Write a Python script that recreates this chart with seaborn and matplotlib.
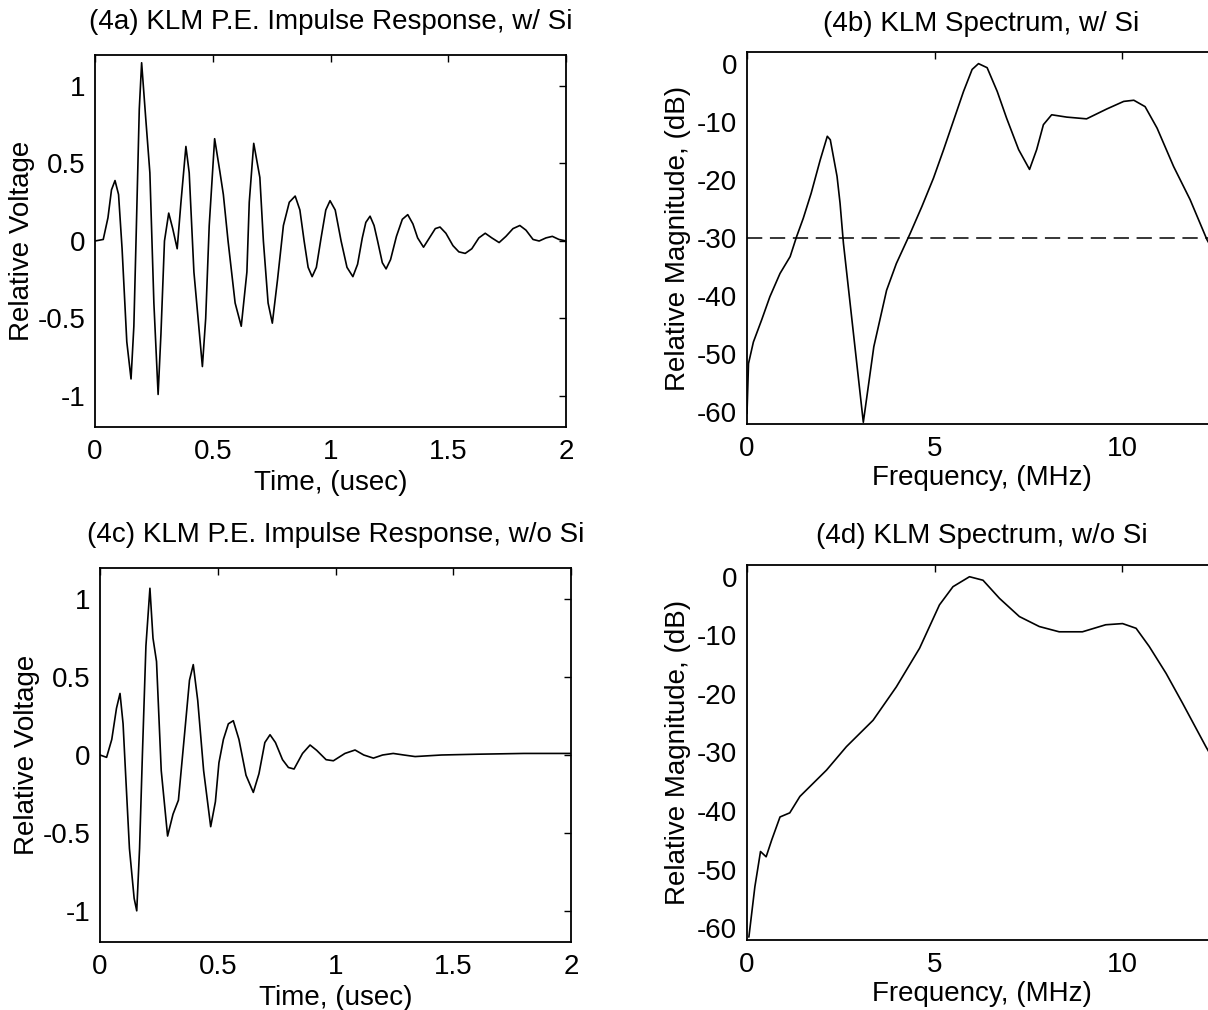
import matplotlib
matplotlib.use("Agg")
import matplotlib.pyplot as plt
import seaborn as sns

# ---------------- data ----------------
# (4a) impulse response with Si
t_a = [0.0, 0.035, 0.055, 0.07, 0.085, 0.10, 0.115, 0.135, 0.153, 0.165,
       0.175, 0.188, 0.198, 0.215, 0.233, 0.25, 0.268, 0.28, 0.295, 0.313,
       0.33, 0.349, 0.365, 0.386, 0.40, 0.42, 0.456, 0.47, 0.485, 0.508,
       0.53, 0.545, 0.565, 0.595, 0.621, 0.645, 0.655, 0.674, 0.70, 0.715,
       0.735, 0.753, 0.775, 0.80, 0.825, 0.85, 0.87, 0.888, 0.905, 0.922,
       0.94, 0.96, 0.98, 0.998, 1.02, 1.045, 1.07, 1.095, 1.115, 1.135,
       1.15, 1.168, 1.185, 1.20, 1.22, 1.236, 1.255, 1.28, 1.305, 1.328,
       1.35, 1.37, 1.395, 1.42, 1.445, 1.465, 1.49, 1.52, 1.545, 1.572,
       1.60, 1.63, 1.657, 1.685, 1.716, 1.745, 1.775, 1.804, 1.83, 1.86,
       1.886, 1.915, 1.942, 1.97, 2.0]
v_a = [0.0, 0.01, 0.15, 0.33, 0.39, 0.30, -0.05, -0.65, -0.89, -0.55,
       0.05, 0.85, 1.15, 0.80, 0.44, -0.40, -0.99, -0.60, 0.0, 0.18,
       0.08, -0.05, 0.25, 0.61, 0.44, -0.20, -0.81, -0.50, 0.10, 0.66,
       0.45, 0.30, 0.0, -0.40, -0.55, -0.20, 0.25, 0.63, 0.41, 0.0,
       -0.40, -0.53, -0.25, 0.10, 0.25, 0.29, 0.20, 0.0, -0.17, -0.23,
       -0.17, 0.02, 0.20, 0.26, 0.20, 0.0, -0.17, -0.23, -0.15, 0.02,
       0.12, 0.16, 0.10, 0.0, -0.14, -0.18, -0.12, 0.03, 0.14, 0.17,
       0.11, 0.02, -0.04, 0.02, 0.08, 0.09, 0.05, -0.03, -0.07, -0.08,
       -0.05, 0.02, 0.05, 0.02, -0.01, 0.03, 0.08, 0.10, 0.07, 0.01,
       0.0, 0.02, 0.03, 0.01, 0.0]

# (4c) impulse response without Si
t_c = [0.0, 0.028, 0.05, 0.07, 0.085, 0.098, 0.108, 0.125, 0.145, 0.156,
       0.168, 0.18, 0.195, 0.212, 0.225, 0.24, 0.26, 0.287, 0.31, 0.333,
       0.36, 0.38, 0.396, 0.415, 0.44, 0.47, 0.49, 0.505, 0.524, 0.545,
       0.566, 0.59, 0.62, 0.651, 0.675, 0.70, 0.722, 0.745, 0.775, 0.80,
       0.824, 0.86, 0.892, 0.92, 0.96, 0.991, 1.04, 1.083, 1.12, 1.161,
       1.20, 1.245, 1.29, 1.338, 1.45, 1.6, 1.8, 2.0]
v_c = [0.0, -0.015, 0.10, 0.30, 0.395, 0.20, -0.10, -0.60, -0.92, -1.0,
       -0.60, 0.0, 0.70, 1.07, 0.75, 0.60, -0.10, -0.52, -0.38, -0.29,
       0.15, 0.48, 0.58, 0.35, -0.10, -0.46, -0.30, -0.05, 0.10, 0.20,
       0.22, 0.10, -0.13, -0.24, -0.12, 0.08, 0.13, 0.08, -0.03, -0.08,
       -0.09, 0.01, 0.064, 0.03, -0.03, -0.037, 0.01, 0.032, 0.0, -0.02,
       0.0, 0.01, 0.0, -0.01, 0.0, 0.005, 0.01, 0.01]

# (4b) spectrum with Si
f_b = [0.0, 0.04, 0.17, 0.39, 0.61, 0.88, 1.15, 1.32, 1.50, 1.71, 1.95, 2.14,
       2.22, 2.40, 2.48, 2.57, 3.10, 3.38, 3.72, 3.98, 4.35, 4.66, 4.97, 5.24,
       5.51, 5.77, 6.0, 6.17, 6.40, 6.67, 6.92, 7.24, 7.53, 7.72, 7.90, 8.12,
       8.52, 9.05, 9.59, 10.04, 10.31, 10.61, 10.93, 11.37, 11.81, 12.26, 12.5]
db_b = [-60.2, -51.6, -47.9, -44.1, -40.1, -36.1, -33.2, -29.8, -26.6, -22.3,
        -16.6, -12.5, -13.1, -19.4, -24.0, -30.9, -61.7, -48.7, -39.0, -34.4,
        -29.2, -24.6, -19.7, -14.8, -9.7, -4.8, -1.0, 0.0, -0.7, -4.8, -9.4,
        -14.8, -18.2, -14.8, -10.5, -8.8, -9.2, -9.5, -7.8, -6.5, -6.3, -7.4,
        -11.1, -17.7, -23.4, -30.3, -33.0]
threshold_db = -30.0

# (4d) spectrum without Si
f_d = [0.05, 0.21, 0.36, 0.51, 0.66, 0.88, 1.14, 1.41, 2.12, 2.65, 3.36, 3.98,
       4.60, 5.13, 5.49, 5.93, 6.29, 6.73, 7.26, 7.79, 8.32, 8.94, 9.56, 10.01,
       10.37, 10.72, 11.17, 11.61, 12.23, 12.5]
db_d = [-61.5, -52.9, -46.9, -47.8, -44.9, -41.0, -40.3, -37.5, -33.0, -29.0,
        -24.5, -18.8, -12.2, -4.8, -1.7, 0.0, -0.6, -3.7, -6.8, -8.5, -9.4,
        -9.4, -8.2, -8.0, -8.8, -11.9, -16.5, -21.6, -29.0, -32.0]

titles = ["(4a) KLM P.E. Impulse Response, w/ Si",
          "(4b) KLM Spectrum, w/ Si",
          "(4c) KLM P.E. Impulse Response, w/o Si",
          "(4d) KLM Spectrum, w/o Si"]
time_ticks = [0, 0.5, 1, 1.5, 2]
time_ticklabels = ["0", "0.5", "1", "1.5", "2"]
volt_ticks = [-1, -0.5, 0, 0.5, 1]
volt_ticklabels = ["-1", "-0.5", "0", "0.5", "1"]
freq_ticks = [0, 5, 10]
freq_ticklabels = ["0", "5", "10"]
db_ticks = [-60, -50, -40, -30, -20, -10, 0]
db_ticklabels = ["-60", "-50", "-40", "-30", "-20", "-10", "0"]

# ---------------- style ----------------
sns.set_theme(style="white")
plt.rcParams["font.family"] = ["Liberation Sans", "DejaVu Sans"]
FS = 20
plt.rcParams.update({
    "axes.unicode_minus": False,
    "axes.edgecolor": "black",
    "axes.linewidth": 1.3,
    "xtick.color": "black",
    "ytick.color": "black",
    "text.color": "black",
    "axes.labelcolor": "black",
})

fig = plt.figure(figsize=(12.08, 10.10), dpi=100)
W, H = 1208.0, 1010.0


def add_axes(l, r, t, b):
    return fig.add_axes([l / W, 1 - b / H, (r - l) / W, (b - t) / H])


ax_a = add_axes(95, 566, 55, 427)
ax_b = add_axes(747, 1216, 52, 424)
ax_c = add_axes(100, 571, 568, 942)
ax_d = add_axes(747, 1216, 565, 940)

lw = 1.2
sns.lineplot(x=t_a, y=v_a, ax=ax_a, color="black", linewidth=lw)
sns.lineplot(x=t_c, y=v_c, ax=ax_c, color="black", linewidth=lw)
sns.lineplot(x=f_b, y=db_b, ax=ax_b, color="black", linewidth=lw)
sns.lineplot(x=[0, 12.5], y=[threshold_db, threshold_db], ax=ax_b,
             color="black", linewidth=1.1, linestyle=(0, (10, 5)))
sns.lineplot(x=f_d, y=db_d, ax=ax_d, color="black", linewidth=lw)

for ax in (ax_a, ax_c):
    ax.set_xlim(0, 2)
    ax.set_ylim(-1.2, 1.2)
    ax.set_xticks(time_ticks)
    ax.set_xticklabels(time_ticklabels)
    ax.set_yticks(volt_ticks)
    ax.set_yticklabels(volt_ticklabels)
    ax.set_xlabel("Time, (usec)", fontsize=FS, labelpad=3)
    ax.set_ylabel("Relative Voltage", fontsize=FS, labelpad=2)

for ax in (ax_b, ax_d):
    ax.set_xlim(0, 12.5)
    ax.set_ylim(-62, 2)
    ax.set_xticks(freq_ticks)
    ax.set_xticklabels(freq_ticklabels)
    ax.set_yticks(db_ticks)
    ax.set_yticklabels(db_ticklabels)
    ax.set_xlabel("Frequency, (MHz)", fontsize=FS, labelpad=2)
    ax.set_ylabel("Relative Magnitude, (dB)", fontsize=FS, labelpad=4)

pads = [19, 15, 19, 16]
for ax, title, p in zip((ax_a, ax_b, ax_c, ax_d), titles, pads):
    ax.set_title(title, fontsize=FS, pad=p)
    ax.tick_params(direction="in", length=5, width=1.0, labelsize=FS,
                   top=True, right=True)
    ax.tick_params(axis="x", pad=9)
    ax.tick_params(axis="y", pad=7)
    for s in ax.spines.values():
        s.set_visible(True)
        s.set_color("black")

fig.savefig("out.png", dpi=100, facecolor="white")
